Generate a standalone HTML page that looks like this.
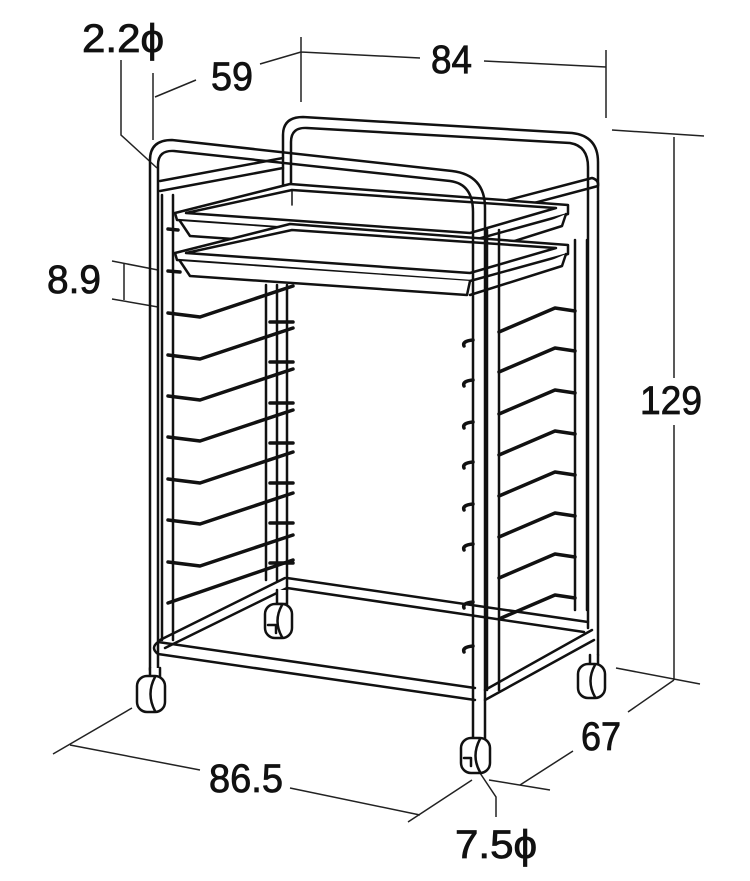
<!DOCTYPE html>
<html><head><meta charset="utf-8"><style>
html,body{margin:0;padding:0;background:#fff;}
svg{display:block;}
text{font-family:"Liberation Sans Narrow","Liberation Sans",sans-serif;fill:#111;stroke:#111;stroke-width:0.8;}
</style></head><body>
<svg width="750" height="881" viewBox="0 0 750 881" xmlns="http://www.w3.org/2000/svg">
<g stroke="#222" stroke-width="1.5" fill="none">
<path d="M121,60 L121,135 L157,168"/>
<path d="M153,73 L153,140 M155,97 L196,80 M260,64 L301,52"/>
<path d="M301,37 L301,102 M301,52 L420,58 M484,61 L606,67 M606,50 L606,118"/>
<path d="M612,130 L704,136 M674,137 L674,378 M674,425 L674,680 M616,668 L700,684"/>
<path d="M674,680 L628,712 M573,751 L520,785 M489,780 L550,790"/>
<path d="M112,261 L158,270 M112,299 L158,307 M124,263 L124,300"/>
<path d="M132,708 L53,754 M70,745 L200,770 M290,788 L420,815 M408,822 L472,780"/>
<path d="M478,770 L496,797 L496,817"/>
</g>
<g font-size="40">
<text x="82" y="52" textLength="82" lengthAdjust="spacingAndGlyphs">2.2ϕ</text>
<text x="211" y="90" textLength="42" lengthAdjust="spacingAndGlyphs">59</text>
<text x="431" y="73" textLength="41" lengthAdjust="spacingAndGlyphs">84</text>
<text x="640" y="414" textLength="62" lengthAdjust="spacingAndGlyphs">129</text>
<text x="47" y="293" textLength="54" lengthAdjust="spacingAndGlyphs">8.9</text>
<text x="581" y="750" textLength="40" lengthAdjust="spacingAndGlyphs">67</text>
<text x="209" y="792" textLength="74" lengthAdjust="spacingAndGlyphs">86.5</text>
<text x="455" y="858" textLength="82" lengthAdjust="spacingAndGlyphs">7.5ϕ</text>
</g>
<g stroke="#111" stroke-width="2.5" fill="none" stroke-linejoin="round" stroke-linecap="round">
<!-- back frame -->
<path d="M283,250 L283,135 Q283,117 303,117 L572,133 Q598,136 598,162 L598,655"/>
<path d="M291,250 L291,142 Q291,127 307,128 L570,143 Q588,146 588,167 L588,628"/>
<path d="M575,240 L575,610 M587,240 L587,610"/>
<path d="M266,285 L266,580 M277,285 L277,580 M287,285 L287,590"/>
<!-- side top rails -->
<path d="M160,181 L283,158 M160,191 L283,168"/>
<path d="M485,206 L592,178 Q599,180 598,186 L485,216"/>
<!-- trays -->
<g fill="#fff">
<path d="M175,213 L290,184 L568,205 L568,214 L470,241 L177,220 Z"/>
<path d="M186,213 L292,190 L556,208 L470,233 Z"/>
<path d="M180,221 L190,236 L467,255 L470,241 M470,255 L562,226 L566,214"/>
<path d="M175,253 L290,224 L568,245 L568,254 L470,281 L177,260 Z"/>
<path d="M186,253 L292,230 L556,248 L470,273 Z"/>
<path d="M180,261 L190,276 L467,295 L470,281 M470,295 L562,266 L566,254"/>
</g>
<path d="M292,190 L292,205" stroke-width="1.5"/>
<!-- left runners -->
<g stroke-width="3.5">
<path d="M168,229 L178,230"/>
<path d="M168,271 L180,272"/>
<path d="M168,313 L200,317 L293,286"/>
<path d="M168,355 L200,359 L293,328"/>
<path d="M168,396 L200,400 L293,369"/>
<path d="M168,437 L200,441 L293,410"/>
<path d="M168,479 L200,483 L293,452"/>
<path d="M168,520 L200,524 L293,493"/>
<path d="M168,562 L200,566 L293,535"/>
<path d="M168,603 L293,560"/>
<path d="M270,322 L293,322 M270,362 L293,362 M270,403 L293,403 M270,443 L293,443 M270,483 L293,483 M270,523 L293,523 M270,563 L293,563"/>
<path d="M499,332 L555,308 L575,311"/>
<path d="M499,372 L555,348 L575,351"/>
<path d="M499,414 L555,390 L575,393"/>
<path d="M499,455 L555,431 L575,434"/>
<path d="M499,496 L555,472 L575,475"/>
<path d="M499,537 L555,513 L575,516"/>
<path d="M499,578 L555,554 L575,557"/>
<path d="M499,619 L555,595 L575,598"/>
<path d="M464,346 Q462,341 473,340 M464,386 Q462,381 473,380 M464,428 Q462,423 473,422 M464,468 Q462,463 473,462 M464,510 Q462,505 473,504 M464,550 Q462,545 473,544 M464,608 Q462,603 473,602 M464,652 Q462,647 473,646"/>
</g>
<!-- bottom frame -->
<path d="M160,640 L285,578 M165,648 L287,588"/>
<path d="M287,578 L588,622 M287,588 L584,632"/>
<path d="M485,690 L592,630 M485,700 L594,640"/>
<path d="M158,642 L475,688 M158,654 L475,700 M158,642 Q150,648 158,654"/>
<!-- front frame (over trays) -->
<path d="M150,670 L150,160 Q150,140 172,140 L452,171 Q485,175 485,208 L485,755"/>
<path d="M158,670 L158,165 Q158,150 174,151 L450,181 Q473,184 473,212 L473,755"/>
<path d="M162,195 L162,640 M173,195 L173,640"/>
<path d="M487,230 L487,690 M499,230 L499,690"/>
<!-- casters -->
<g fill="#fff">
<path d="M150,668 L150,680 L160,680 L160,668"/>
<rect x="137" y="676" width="28" height="36" rx="10"/>
<path d="M155,677 Q146,694 155,711"/>
<path d="M277,590 L277,604 L287,604 L287,590"/>
<rect x="265" y="604" width="27" height="34" rx="10"/>
<path d="M282,605 Q273,621 282,637 M268,625 L276,625 L276,633"/>
<path d="M590,655 L590,666 L598,666 L598,655"/>
<rect x="578" y="664" width="27" height="34" rx="10"/>
<path d="M595,665 Q586,681 595,697"/>
<path d="M475,755 L475,740 L484,740 L484,755"/>
<rect x="461" y="738" width="29" height="35" rx="10"/>
<path d="M480,739 Q471,756 480,772 M464,758 L471,758 L471,766"/>
</g>
</g>
</svg>
</body></html>
